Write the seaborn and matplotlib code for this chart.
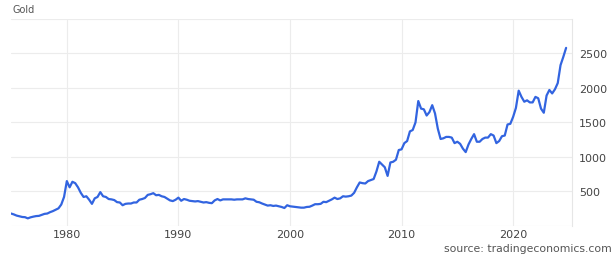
import numpy as np
import pandas as pd
import matplotlib
matplotlib.use("Agg")
import matplotlib.pyplot as plt
import seaborn as sns

# Precio del oro (USD/oz), valores trimestrales, 1975 a 2024
gold_1975_1984 = [180, 167, 150, 140, 130, 127, 110, 125, 135, 143, 146, 160,
                  175, 180, 200, 215, 235, 255, 310, 420, 650, 560, 640, 620,
                  560, 480, 420, 430, 380, 320, 400, 420, 490, 430, 420, 390,
                  385, 375, 345, 340]
gold_1985_1994 = [300, 320, 325, 325, 340, 340, 380, 390, 405, 450, 460, 475,
                  445, 450, 430, 420, 395, 370, 360, 380, 410, 365, 390, 380,
                  365, 360, 355, 360, 350, 340, 345, 335, 330, 370, 390, 370,
                  385, 385, 385, 385]
gold_1995_2004 = [380, 385, 385, 385, 400, 390, 385, 380, 350, 343, 325, 310,
                  295, 300, 290, 295, 285, 275, 260, 300, 285, 280, 275, 270,
                  265, 265, 275, 278, 295, 315, 315, 320, 350, 345, 365, 385,
                  410, 390, 400, 430]
gold_2005_2014 = [425, 430, 440, 480, 560, 630, 620, 615, 650, 665, 680, 790,
                  930, 890, 850, 725, 920, 930, 960, 1100, 1110, 1200, 1230, 1370,
                  1390, 1500, 1810, 1700, 1690, 1600, 1650, 1750, 1630, 1410, 1260, 1270,
                  1290, 1290, 1280, 1200]
gold_2015_2024 = [1220, 1190, 1120, 1070, 1180, 1260, 1330, 1220, 1220, 1260, 1280, 1280,
                  1330, 1310, 1200, 1230, 1300, 1310, 1470, 1480, 1580, 1710, 1960, 1870,
                  1800, 1820, 1790, 1790, 1870, 1850, 1700, 1640, 1890, 1970, 1920, 1980,
                  2070, 2330, 2450, 2580]

gold = gold_1975_1984 + gold_1985_1994 + gold_1995_2004 + gold_2005_2014 + gold_2015_2024
year = 1975 + np.arange(len(gold)) * 0.25
df = pd.DataFrame({"year": year, "price": gold})

xticks = [1980, 1990, 2000, 2010, 2020]
ytick_labels = ["", "500", "1000", "1500", "2000", "2500", ""]

sns.set_style("white")
fig = plt.figure(figsize=(6.14, 2.55), dpi=100)
ax = fig.add_axes([0.018, 0.110, 0.914, 0.812])

sns.lineplot(data=df, x="year", y="price", ax=ax, color="#3264e0", linewidth=1.6)

ax.set_xlim(1975, 2025.3)
ax.set_ylim(0, 3000)
ax.set_xticks(xticks)
ax.set_yticks([0, 500, 1000, 1500, 2000, 2500, 3000])
ax.set_yticklabels(ytick_labels)
ax.yaxis.tick_right()
ax.grid(True, color="#ececec", linewidth=0.8)
ax.tick_params(axis="both", length=0, labelsize=8, colors="#444444")
ax.tick_params(axis="x", pad=2)
ax.tick_params(axis="y", pad=5)
ax.set_xlabel("")
ax.set_ylabel("")
for side in ["left", "top", "bottom"]:
    ax.spines[side].set_visible(False)
ax.spines["right"].set_color("#e6e6e6")
ax.spines["right"].set_linewidth(0.8)

fig.text(0.021, 0.96, "Gold", fontsize=7, color="#555555", va="center", ha="left")
fig.text(0.997, 0.025, "source: tradingeconomics.com", fontsize=7.8,
         color="#555555", va="center", ha="right")

fig.savefig("out.png", dpi=100)
